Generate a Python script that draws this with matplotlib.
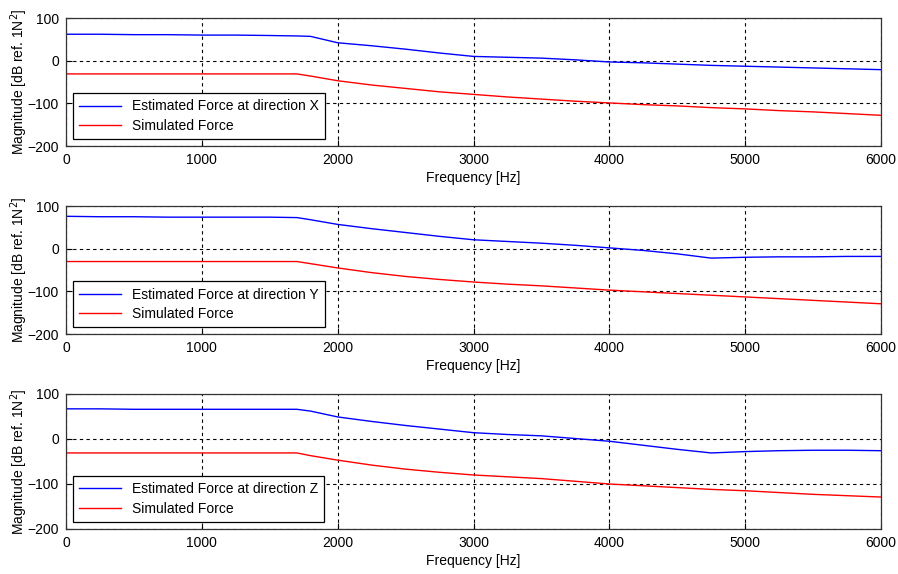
import numpy as np
import matplotlib
matplotlib.use('Agg')
import matplotlib.pyplot as plt

plt.rcParams['font.family'] = ['Liberation Sans', 'DejaVu Sans']
plt.rcParams['font.size'] = 10

# frequency grid [Hz]
freq = [0, 250, 500, 750, 1000, 1250, 1500, 1700, 1800, 2000, 2250, 2500, 2750,
        3000, 3250, 3500, 3750, 4000, 4250, 4500, 4750, 5000, 5250, 5500, 5750, 6000]

# estimated forces (blue) and simulated forces (red) in dB
est_x = [62, 62, 61, 61, 60, 60, 59, 58, 57, 42, 35, 27, 18,
         10, 8, 6, 2, -3, -5, -8, -11, -13, -15, -17, -19, -21]
sim_x = [-31, -31, -31, -31, -31, -31, -31, -31, -36, -47, -57, -65, -73,
         -79, -85, -90, -95, -99, -103, -106, -110, -113, -117, -120, -124, -128]

est_y = [76, 75, 75, 74, 74, 74, 74, 73, 68, 57, 47, 38, 29,
         21, 17, 13, 8, 2, -4, -12, -22, -20, -19, -19, -18, -18]
sim_y = [-30, -30, -30, -30, -30, -30, -30, -30, -35, -45, -56, -65, -72,
         -78, -83, -87, -92, -97, -101, -105, -109, -113, -117, -121, -125, -129]

est_z = [67, 67, 66, 66, 66, 66, 66, 66, 62, 49, 39, 30, 22,
         14, 10, 7, 1, -5, -14, -23, -31, -28, -26, -25, -25, -26]
sim_z = [-31, -31, -31, -31, -31, -31, -31, -31, -37, -47, -58, -67, -74,
         -80, -84, -88, -94, -100, -104, -108, -112, -115, -119, -123, -126, -129]

directions = ['X', 'Y', 'Z']
estimated = [est_x, est_y, est_z]
simulated = [sim_x, sim_y, sim_z]

fig = plt.figure(figsize=(8.98, 5.74), dpi=100)
# axes rectangles [left, bottom, width, height] in figure fractions
rects = [[0.0735, 0.7456, 0.9076, 0.2230],
         [0.0735, 0.4180, 0.9076, 0.2230],
         [0.0735, 0.0784, 0.9076, 0.2352]]

for rect, d, est, sim in zip(rects, directions, estimated, simulated):
    ax = fig.add_axes(rect)
    ax.plot(freq, est, color='#0000ff', lw=1.0, label='Estimated Force at direction ' + d)
    ax.plot(freq, sim, color='#ff0000', lw=1.0, label='Simulated Force')
    ax.set_xlim(0, 6000)
    ax.set_ylim(-200, 100)
    ax.set_xticks(np.arange(0, 6001, 1000))
    ax.set_yticks([-200, -100, 0, 100])
    ax.grid(True, color='black', linestyle=(0, (3, 3)), linewidth=0.8)
    ax.tick_params(direction='in', length=4, colors='black', labelsize=10, pad=5)
    for s in ax.spines.values():
        s.set_color('#333333')
        s.set_linewidth(0.9)
    ax.set_xlabel('Frequency [Hz]', fontsize=10, labelpad=3)
    ax.set_ylabel('Magnitude [dB ref. 1N$^2$]', fontsize=10, labelpad=-2)
    leg = ax.legend(loc='lower left', bbox_to_anchor=(0.003, 0.02), fontsize=10,
                    fancybox=False, framealpha=1, edgecolor='black',
                    handlelength=3.0, borderpad=0.45, labelspacing=0.4,
                    borderaxespad=0.3)
    leg.get_frame().set_linewidth(0.9)

fig.savefig('out.png', dpi=100)
